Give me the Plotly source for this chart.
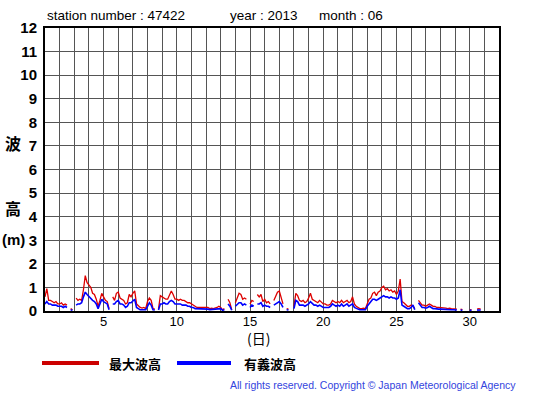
import plotly.graph_objects as go

N = None
# 3-hourly values (hours 0,3,...,21) for each day of June 2013
max_wave = [
    [0.6, 0.95, 0.45, 0.45, 0.4, 0.35, 0.4, 0.3],
    [0.3, 0.35, 0.25, 0.3, 0.25, N, 0.1, 0.05],
    [N, 0.55, 0.45, 0.5, 0.45, 0.9, 1.5, 1.2],
    [1.1, 1.0, 0.75, 0.7, 0.5, 0.2, 0.45, 0.75],
    [0.6, 0.45, 0.4, 0.1, N, 0.6, 0.45, 0.75],
    [0.8, 0.55, 0.5, 0.45, 0.3, 0.35, 0.7, 0.6],
    [0.75, 0.85, 0.3, 0.2, 0.15, 0.12, 0.15, 0.1],
    [0.4, 0.55, 0.45, 0.1, 0.08, N, 0.08, 0.65],
    [0.6, 0.55, 0.5, 0.5, 0.65, 0.85, 0.7, 0.5],
    [0.5, 0.45, 0.5, 0.45, 0.45, 0.4, 0.35, 0.35],
    [0.3, 0.25, 0.2, 0.15, 0.15, 0.15, 0.12, 0.15],
    [0.12, 0.15, 0.1, 0.12, 0.1, 0.12, 0.15, 0.2],
    [0.15, 0.05, 0.1, N, 0.5, 0.35, 0.05, N],
    [0.35, 0.6, 0.75, 0.7, 0.5, 0.55, 0.5, N],
    [0.3, 0.45, 0.4, N, 0.7, 0.6, 0.7, 0.4],
    [0.5, 0.35, 0.4, 0.3, N, 0.45, 0.6, 0.8],
    [0.85, 0.6, 0.3, N, 0.1, 0.08, N, N],
    [0.2, 0.75, 0.65, 0.45, 0.4, 0.45, 0.35, 0.4],
    [0.55, 0.75, 0.5, 0.45, 0.4, 0.35, 0.45, 0.35],
    [0.3, 0.3, 0.25, 0.25, 0.3, 0.45, 0.4, 0.35],
    [0.4, 0.35, 0.45, 0.35, 0.4, 0.45, 0.35, 0.4],
    [0.6, 0.3, 0.2, 0.15, 0.1, 0.1, 0.12, 0.1],
    [0.35, 0.5, 0.55, 0.75, 0.8, 0.65, 0.8, 0.85],
    [1.0, 1.05, 0.9, 0.95, 0.85, 0.9, 0.8, 0.85],
    [0.7, 0.85, 1.35, 0.4, 0.35, 0.25, 0.2, 0.2],
    [0.25, 0.2, 0.1, N, 0.45, 0.35, 0.25, 0.25],
    [0.2, 0.25, 0.3, 0.25, 0.2, 0.2, 0.15, 0.15],
    [0.15, 0.12, 0.15, 0.12, 0.1, 0.12, 0.1, 0.1],
    [0.1, 0.08, N, 0.08, 0.06, N, N, N],
    [0.06, 0.05, N, N, 0.08, 0.1, 0.08, N],
]
sig_wave = [
    [0.3, 0.4, 0.3, 0.3, 0.25, 0.25, 0.25, 0.2],
    [0.2, 0.2, 0.15, 0.2, 0.15, N, 0.05, 0.03],
    [N, 0.25, 0.3, 0.3, 0.35, 0.6, 0.8, 0.7],
    [0.6, 0.55, 0.45, 0.4, 0.3, 0.1, 0.3, 0.5],
    [0.4, 0.35, 0.3, 0.05, N, 0.3, 0.3, 0.4],
    [0.45, 0.3, 0.3, 0.25, 0.15, 0.2, 0.35, 0.35],
    [0.45, 0.5, 0.15, 0.1, 0.05, 0.05, 0.05, 0.05],
    [0.2, 0.35, 0.25, 0.05, 0.04, N, 0.04, 0.3],
    [0.3, 0.35, 0.3, 0.3, 0.4, 0.45, 0.4, 0.3],
    [0.3, 0.3, 0.3, 0.25, 0.25, 0.25, 0.2, 0.2],
    [0.15, 0.15, 0.1, 0.1, 0.1, 0.08, 0.08, 0.08],
    [0.07, 0.08, 0.06, 0.07, 0.06, 0.07, 0.1, 0.12],
    [0.1, 0.03, 0.05, N, 0.3, 0.2, 0.03, N],
    [0.2, 0.3, 0.35, 0.35, 0.25, 0.3, 0.25, N],
    [0.15, 0.25, 0.2, N, 0.3, 0.3, 0.35, 0.2],
    [0.25, 0.2, 0.2, 0.15, N, 0.25, 0.3, 0.35],
    [0.4, 0.3, 0.15, N, 0.05, 0.04, N, N],
    [0.1, 0.45, 0.4, 0.25, 0.25, 0.25, 0.2, 0.25],
    [0.3, 0.4, 0.3, 0.25, 0.25, 0.2, 0.25, 0.2],
    [0.15, 0.15, 0.15, 0.15, 0.2, 0.3, 0.25, 0.2],
    [0.25, 0.2, 0.3, 0.2, 0.25, 0.3, 0.2, 0.25],
    [0.3, 0.15, 0.1, 0.08, 0.05, 0.05, 0.06, 0.05],
    [0.2, 0.3, 0.35, 0.5, 0.5, 0.45, 0.5, 0.55],
    [0.6, 0.65, 0.6, 0.6, 0.55, 0.6, 0.55, 0.55],
    [0.5, 0.55, 0.9, 0.25, 0.2, 0.15, 0.1, 0.1],
    [0.15, 0.25, 0.05, N, 0.35, 0.25, 0.15, 0.15],
    [0.12, 0.15, 0.2, 0.15, 0.1, 0.1, 0.08, 0.08],
    [0.08, 0.07, 0.08, 0.07, 0.06, 0.06, 0.05, 0.05],
    [0.05, 0.04, N, 0.04, 0.03, N, N, N],
    [0.03, 0.03, N, N, 0.04, 0.05, 0.04, N],
]
hours = [0, 3, 6, 9, 12, 15, 18, 21]
days = list(range(1, 31))
x_tick_days = list(range(1, 33))
x_labels = [str(d) if d % 5 == 0 else "" for d in x_tick_days]
y_ticks = list(range(0, 13))

xs = [d + h / 24 for d in days for h in hours]
red_y = [v for row in max_wave for v in row]
blue_y = [v for row in sig_wave for v in row]

W, H = 555, 395
L, R, T, B = 45, 499, 28, 311

def px(x):
    return (x - L) / (R - L)

def py(y):
    return (B - y) / (B - T)

fig = go.Figure()
fig.add_trace(go.Scatter(x=xs, y=red_y, mode="lines", line=dict(color="#dd0000", width=1.3),
                         connectgaps=False, showlegend=False))
fig.add_trace(go.Scatter(x=xs, y=blue_y, mode="lines", line=dict(color="#0000ff", width=1.6),
                         connectgaps=False, showlegend=False))

fig.update_layout(
    width=W, height=H,
    margin=dict(l=L, r=W - R, t=T, b=H - B),
    paper_bgcolor="white", plot_bgcolor="white",
    font=dict(family="Liberation Sans, Arial, sans-serif", color="black"),
    xaxis=dict(range=[1, 32], tickvals=x_tick_days, ticktext=x_labels, showgrid=True,
               gridcolor="#555555", gridwidth=1, showline=True, linecolor="black", linewidth=2,
               mirror=True, ticks="", zeroline=False, tickfont=dict(size=13),
               ticklabelstandoff=-3),
    yaxis=dict(range=[0, 12], tickvals=y_ticks, showgrid=True, gridcolor="#555555", gridwidth=1,
               showline=True, linecolor="black", linewidth=2, mirror=True, ticks="",
               zeroline=False, ticklabelstandoff=3,
               tickfont=dict(size=15, weight="bold")),
)

LAT = "Liberation Sans, Arial, sans-serif"
CJK = "Noto Sans CJK JP, sans-serif"
anns = [
    dict(text="station number : 47422", x=45, y=16, xa="left", size=13.5, bold=False, fam=LAT, color="black"),
    dict(text="year : 2013", x=228, y=16, xa="left", size=13.5, bold=False, fam=LAT, color="black"),
    dict(text="month : 06", x=317, y=16, xa="left", size=13.5, bold=False, fam=LAT, color="black"),
    dict(text="波", x=13, y=143, xa="center", size=16, bold=True, fam=CJK, color="black"),
    dict(text="高", x=13, y=208, xa="center", size=16, bold=True, fam=CJK, color="black"),
    dict(text="(m)", x=13, y=239, xa="center", size=15, bold=True, fam=LAT, color="black"),
    dict(text="(日)", x=258, y=338, xa="center", size=14, bold=False, fam=CJK, color="black"),
    dict(text="最大波高", x=107, y=363, xa="left", size=13, bold=True, fam=CJK, color="black"),
    dict(text="有義波高", x=242, y=363, xa="left", size=13, bold=True, fam=CJK, color="black"),
    dict(text="All rights reserved. Copyright © Japan Meteorological Agency", x=518, y=385,
         xa="right", size=10.5, bold=False, fam=LAT, color="#3344dd"),
]
for a in anns:
    fig.add_annotation(text=a["text"], xref="paper", yref="paper", x=px(a["x"]), y=py(a["y"]),
                       xanchor=a["xa"], yanchor="middle", showarrow=False,
                       font=dict(size=a["size"], color=a["color"], family=a["fam"],
                                 weight="bold" if a["bold"] else "normal"))

fig.add_shape(type="line", xref="paper", yref="paper", x0=px(42), x1=px(99), y0=py(363), y1=py(363),
              line=dict(color="#cc0000", width=4))
fig.add_shape(type="line", xref="paper", yref="paper", x0=px(177), x1=px(231), y0=py(363), y1=py(363),
              line=dict(color="#0000ff", width=4))

fig.write_html("out.html", config={"displayModeBar": False},
               post_script="document.body.style.margin='0';document.body.style.overflow='hidden';")
